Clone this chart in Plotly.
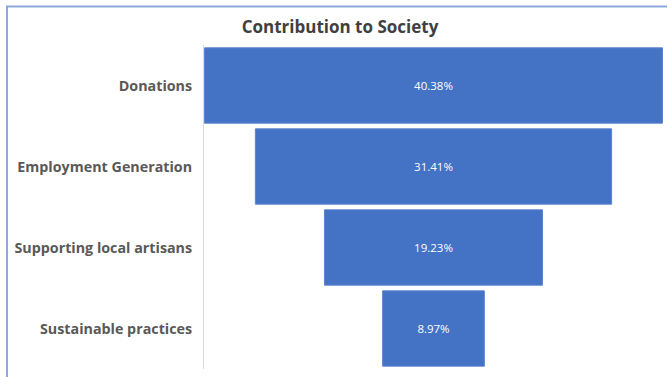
import plotly.graph_objects as go

categories = ["Donations", "Employment Generation", "Supporting local artisans", "Sustainable practices"]
values = [40.38, 31.41, 19.23, 8.97]
title_text = "Contribution to Society"

W, H = 667, 377
pl, pr = 204, 663      # plot area x
pt, pb = 44.5, 369     # plot area y

fig = go.Figure(go.Funnel(
    y=categories,
    x=values,
    texttemplate="%{x:.2f}%",
    textposition="inside",
    insidetextanchor="middle",
    textfont=dict(family="Open Sans, Arial", size=11.5, color="white"),
    marker=dict(color="#4472c4", line=dict(width=1, color="#5b85d0")),
    connector=dict(visible=False),
    hoverinfo="skip",
))

half = max(values) / 2 * (pr - pl) / 458.0
fig.update_layout(
    width=W, height=H,
    margin=dict(l=pl, r=W - pr, t=pt, b=H - pb),
    paper_bgcolor="white", plot_bgcolor="white",
    showlegend=False,
    funnelgap=0.07,
    title=dict(text=title_text, x=(340) / W, xanchor="center",
               y=1 - 27 / H, yanchor="middle",
               font=dict(family="Open Sans", size=17, color="#404040", weight=700)),
    xaxis=dict(range=[-half, half], visible=False, fixedrange=True),
    yaxis=dict(showline=True, linecolor="#d9d9d9", linewidth=1,
               ticks="", ticklabelstandoff=8,
               tickfont=dict(family="Open Sans", size=14.3, color="#595959", weight="bold"),
               showgrid=False),
)

# outer chart border (left and top edges visible)
bx = (7 - pl) / (pr - pl)
by = 1 + (pt - 6) / (pb - pt)
fig.add_shape(type="rect", xref="paper", yref="paper",
              x0=bx, x1=1.2, y0=-0.2, y1=by,
              line=dict(color="#8eaadb", width=2), fillcolor="rgba(0,0,0,0)", layer="below")

fig.write_html("out.html")
